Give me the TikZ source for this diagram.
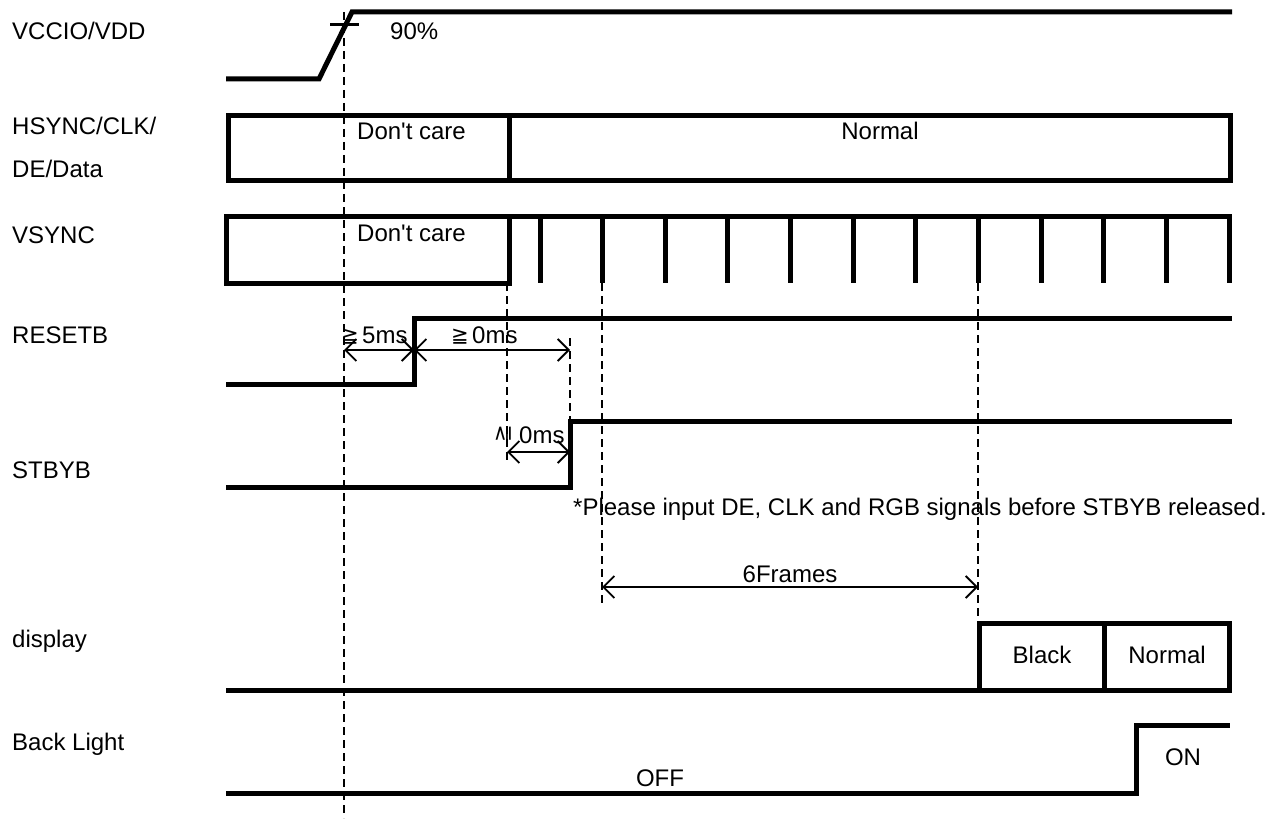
\documentclass[tikz,border=0pt]{standalone}
\usepackage{fontspec}
\setmainfont{Liberation Sans}
\newfontfamily\symfont{DejaVu Sans}
\usetikzlibrary{arrows.meta,positioning}
\tikzset{
	sig/.style={line width=5pt,line join=miter},
	guide/.style={line width=2.2pt,dash pattern=on 8pt off 5pt},
	dim/.style={line width=1.8pt,{Straight Barb[length=11pt,width=22pt]}-{Straight Barb[length=11pt,width=22pt]}},
	lbl/.style={anchor=base west,inner sep=0pt,font=\fontsize{24}{28}\selectfont},
	txt/.style={anchor=base,inner sep=0pt,font=\fontsize{24}{28}\selectfont},
	geq/.style={inner sep=0pt,font=\symfont\fontsize{21}{24}\selectfont}
}

\begin{document}
\begin{tikzpicture}[x=1pt,y=-1pt]
            \useasboundingbox (0,0) rectangle (1284,821);
            \node[lbl] (vdd) at (12,40) {VCCIO/VDD};
            \node[lbl] (hs) at (12,135) {HSYNC/CLK/};
            \node[lbl] (de) at (12,178) {DE/Data};
            \node[lbl] (vs) at (12,243) {VSYNC};
            \node[lbl] (rst) at (12,343) {RESETB};
            \node[lbl] (stb) at (12,478) {STBYB};
            \node[lbl] (disp) at (12,647) {display};
            \node[lbl] (bl) at (12,750) {Back Light};
            \draw[sig] (226,79) -- (319,79) -- (352,12) -- (1232,12);
            \draw[line width=3pt] (330,25) -- (359,25);
            \node[lbl] (pct) at (390,40) {90\%};
            \draw[sig] (228,116) rectangle (1230,181);
            \draw[sig] (509,116) -- (509,181);
            \node[lbl] (dc1) at (357,140) {Don\textquotesingle t care};
            \node[txt] (nrm1) at (880,140) {Normal};
            \draw[sig] (509,216) -- (509,283) -- (226,283) -- (226,216) -- (1232,216);
            \foreach \i in {0,...,11}
                \draw[sig] ({540+62.65*\i},216) -- ++(0,67);
            \node[lbl] (dc2) at (357,241) {Don\textquotesingle t care};
            \draw[sig] (226,384) -- (414,384) -- (414,318) -- (1232,318);
            \draw[sig] (226,487) -- (570,487) -- (570,421) -- (1232,421);
            \draw[sig] (226,690) -- (1229,690) -- (1229,623) -- (979,623) -- (979,690);
            \draw[sig] (1104,623) -- (1104,690);
            \node[txt] (blk) at (1042,663) {Black};
            \node[txt] (nrm2) at (1167,663) {Normal};
            \draw[sig] (226,793) -- (1136,793) -- (1136,725) -- (1230,725);
            \node[txt] (on) at (1183,765) {ON};
            \node[txt] (off) at (660,786) {OFF};
            \draw[guide] (344,12) -- (344,818);
            \draw[guide] (507,283) -- (507,463);
            \draw[guide] (570,338) -- (570,421);
            \draw[guide] (602,283) -- (602,607);
            \draw[guide] (978,283) -- (978,623);
            \coordinate (a) at (344,350);
            \coordinate (b) at (414,350);
            \coordinate (c) at (570,350);
            \coordinate (d) at (507,452);
            \coordinate (e) at (570,452);
            \coordinate (f) at (602,587);
            \coordinate (g) at (978,587);
            \draw[dim] (a) -- (b);
            \draw[dim] (b) -- (c);
            \draw[dim] (d) -- (e);
            \draw[dim] (f) -- (g);
            \node[geq,anchor=base west] (g1) at (341,342) {≧};
            \node[lbl] (t1) at (362,343) {5ms};
            \node[geq,anchor=base west] (g2) at (451,342) {≧};
            \node[lbl] (t2) at (472,343) {0ms};
            \node[geq,rotate=90] (g3) at (504,434) {≧};
            \node[lbl] (t3) at (519,443) {0ms};
            \node[lbl] (note) at (573,515) {*Please input DE, CLK and RGB signals before STBYB released.};
            \node[txt] (fr) at (790,582) {6Frames};
        \end{tikzpicture}
\end{document}
